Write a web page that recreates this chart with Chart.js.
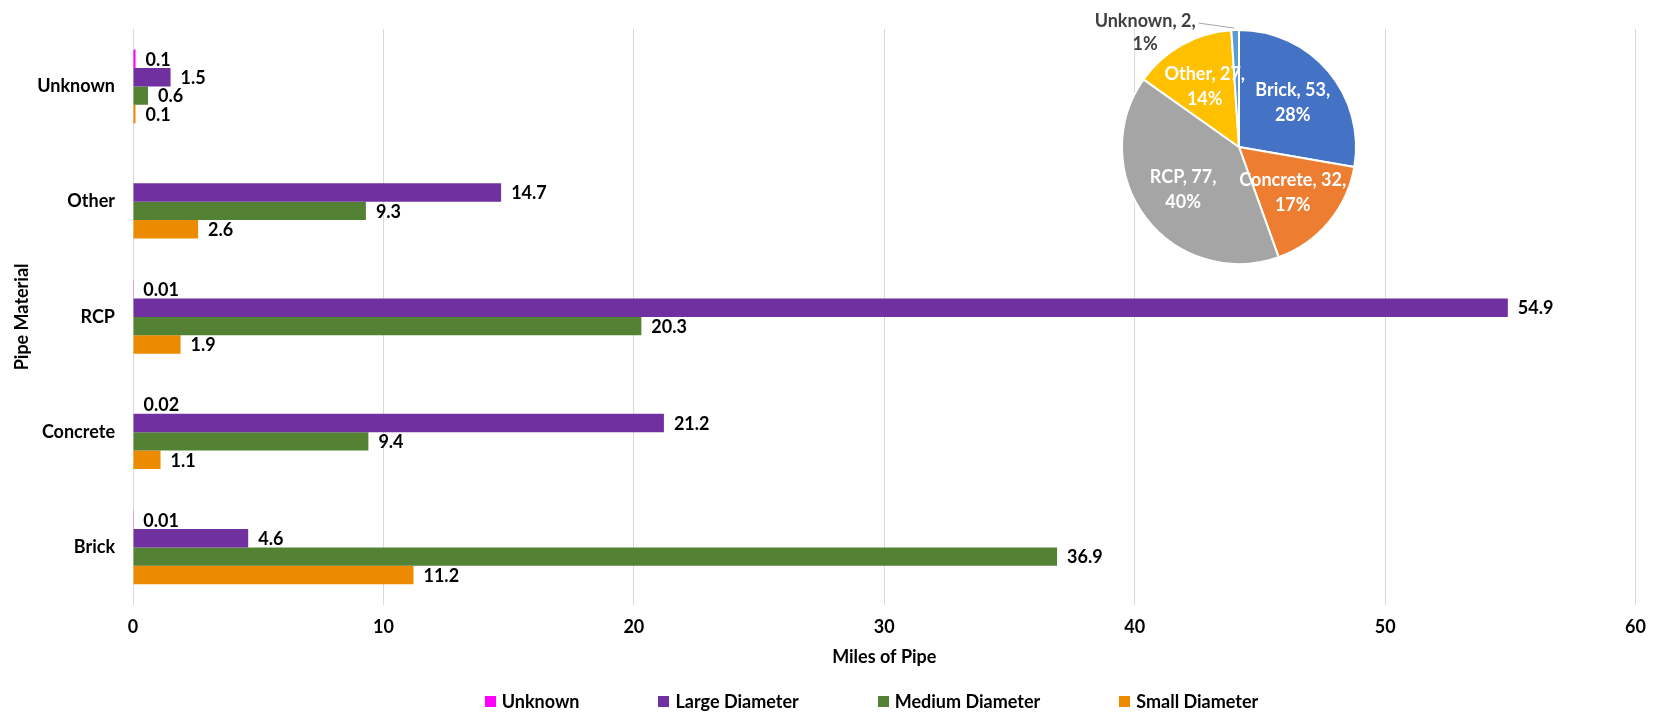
<!DOCTYPE html>
<html>
<head>
<meta charset="utf-8">
<script src="https://cdn.jsdelivr.net/npm/chart.js@4.4.0/dist/chart.umd.min.js"></script>
<style>
  html, body { margin: 0; padding: 0; background: #fff; }
  #wrap { position: relative; width: 1657px; height: 715px; overflow: hidden; }
  #barChart { position: absolute; left: 0; top: 0; }
  #pieChart { position: absolute; left: 1039px; top: 0; }
  #legend {
    position: absolute; left: 86px; top: 690px; width: 1571px; height: 22px;
    display: flex; justify-content: center; align-items: center; gap: 79px;
    font: bold 18px Lato, sans-serif; color: #000;
  }
  #legend span.item { display: flex; align-items: center; }
  #legend i { display: inline-block; width: 11px; height: 11px; margin-right: 6px; }
</style>
</head>
<body>
<div id="wrap">
  <canvas id="barChart" width="1657" height="715"></canvas>
  <canvas id="pieChart" width="400" height="294"></canvas>
  <div id="legend"></div>
</div>
<script>
// categories, top to bottom as drawn
const materials = ["Unknown", "Other", "RCP", "Concrete", "Brick"];

// miles of pipe per diameter class
const unknownDia = [0.1, null, 0.01, 0.02, 0.01];
const largeDia   = [1.5, 14.7, 54.9, 21.2, 4.6];
const mediumDia  = [0.6, 9.3, 20.3, 9.4, 36.9];
const smallDia   = [0.1, 2.6, 1.9, 1.1, 11.2];

const xTicks = [0, 10, 20, 30, 40, 50, 60];

// pie: total miles per material (clockwise from top)
const pieLabelsText = ["Brick", "Concrete", "RCP", "Other", "Unknown"];
const pieValues = [53, 32, 77, 27, 2];
const pieColors = ["#4472C4", "#ED7D31", "#A5A5A5", "#FFC000", "#5B9BD5"];

const FONT = "Lato, 'Open Sans', sans-serif";

// value labels at the end of each bar
const barLabels = {
  id: "barLabels",
  afterDatasetsDraw(chart) {
    const ctx = chart.ctx;
    ctx.save();
    ctx.font = "bold 18px " + FONT;
    ctx.fillStyle = "#000";
    ctx.textBaseline = "middle";
    ctx.textAlign = "left";
    chart.data.datasets.forEach((ds, i) => {
      chart.getDatasetMeta(i).data.forEach((bar, j) => {
        const v = ds.data[j];
        if (v == null) return;
        ctx.fillText(String(v), bar.x + 10, bar.y + 1);
      });
    });
    ctx.restore();
  }
};

const barChart = new Chart(document.getElementById("barChart"), {
  type: "bar",
  data: {
    labels: materials,
    datasets: [
      { label: "Unknown", data: unknownDia, backgroundColor: "#FF00FF" },
      { label: "Large Diameter", data: largeDia, backgroundColor: "#7030A0" },
      { label: "Medium Diameter", data: mediumDia, backgroundColor: "#548235" },
      { label: "Small Diameter", data: smallDia, backgroundColor: "#ED8B00" }
    ]
  },
  options: {
    indexAxis: "y",
    responsive: false,
    animation: false,
    categoryPercentage: 0.64,
    barPercentage: 1.0,
    layout: { padding: { left: 0, right: 21, top: 23, bottom: 40 } },
    plugins: { legend: { display: false }, tooltip: { enabled: false } },
    scales: {
      x: {
        min: 0, max: 60,
        afterBuildTicks: (scale) => { scale.ticks = xTicks.map(v => ({ value: v })); },
        afterFit: (scale) => { scale.height = 70; },
        grid: { color: "#D9D9D9", lineWidth: 1, drawTicks: false },
        border: { display: false },
        ticks: { color: "#000", padding: 11, font: { family: FONT, size: 18, weight: "bold" } },
        title: {
          display: true, text: "Miles of Pipe", color: "#000",
          font: { family: FONT, size: 18, weight: "bold" },
          padding: { top: 0, bottom: 7 }
        }
      },
      y: {
        afterFit: (scale) => { scale.width = 133; },
        grid: { display: false, drawTicks: false },
        border: { display: false },
        ticks: { color: "#000", padding: 18, font: { family: FONT, size: 18, weight: "bold" } },
        title: {
          display: true, text: "Pipe Material", color: "#000",
          font: { family: FONT, size: 18, weight: "bold" },
          padding: { top: 11, bottom: 0 }
        }
      }
    }
  },
  plugins: [barLabels]
});

// HTML legend built from the bar datasets
const legendEl = document.getElementById("legend");
barChart.data.datasets.forEach(ds => {
  const item = document.createElement("span");
  item.className = "item";
  item.innerHTML = `<i style="background:${ds.backgroundColor}"></i>${ds.label}`;
  legendEl.appendChild(item);
});

// labels inside pie slices, small slices outside with a leader line
const pieLabels = {
  id: "pieLabels",
  afterDatasetsDraw(chart) {
    const ctx = chart.ctx;
    const values = chart.data.datasets[0].data;
    const total = values.reduce((a, b) => a + b, 0);
    ctx.save();
    ctx.font = "bold 18px " + FONT;
    ctx.textAlign = "center";
    ctx.textBaseline = "middle";
    chart.getDatasetMeta(0).data.forEach((arc, i) => {
      const pct = Math.round(values[i] / total * 100);
      const line1 = chart.data.labels[i] + ", " + values[i] + ",";
      const line2 = pct + "%";
      const mid = (arc.startAngle + arc.endAngle) / 2;
      if (pct >= 5) {
        const r = arc.outerRadius * 0.6;
        const x = arc.x + Math.cos(mid) * r;
        const y = arc.y + Math.sin(mid) * r;
        ctx.fillStyle = "#fff";
        ctx.fillText(line1, x, y - 12);
        ctx.fillText(line2, x, y + 13);
      } else {
        const px = arc.x + Math.cos(mid) * arc.outerRadius;
        const py = arc.y + Math.sin(mid) * arc.outerRadius;
        const lx = px - 90;
        ctx.fillStyle = "#404040";
        ctx.fillText(line1, lx, py - 9);
        ctx.fillText(line2, lx, py + 14);
        const w = ctx.measureText(line1).width;
        ctx.strokeStyle = "#A6A6A6";
        ctx.lineWidth = 1;
        ctx.beginPath();
        ctx.moveTo(lx + w / 2 + 3, py - 7);
        ctx.lineTo(px - 1, py - 2);
        ctx.stroke();
      }
    });
    ctx.restore();
  }
};

new Chart(document.getElementById("pieChart"), {
  type: "pie",
  data: {
    labels: pieLabelsText,
    datasets: [{ data: pieValues, backgroundColor: pieColors, borderColor: "#fff", borderWidth: 2 }]
  },
  options: {
    responsive: false,
    animation: false,
    layout: { padding: { top: 29, bottom: 29, left: 82, right: 82 } },
    plugins: { legend: { display: false }, tooltip: { enabled: false } }
  },
  plugins: [pieLabels]
});
</script>
</body>
</html>
